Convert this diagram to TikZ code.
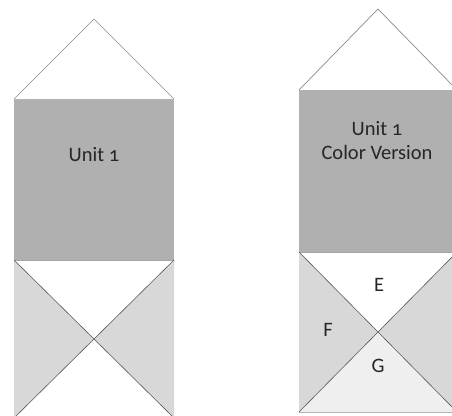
\documentclass[tikz,border=0pt]{standalone}
\usepackage{fontspec}
\setmainfont{Carlito}[Numbers=OldStyle]
\definecolor{walldark}{HTML}{B0B0B0}
\definecolor{wallmid}{HTML}{D8D8D8}
\definecolor{walllight}{HTML}{EFEFEF}
\definecolor{edgegray}{HTML}{8A8A8A}
\begin{document}
\begin{tikzpicture}[x=1pt,y=-1pt,
  roofline/.style={draw=edgegray,line width=0.7pt,line join=miter},
  diagline/.style={draw=black!65,line width=0.6pt},
  lbl/.style={font=\fontsize{20.5}{24}\selectfont,text=black!85,align=center,inner sep=0pt}]
\useasboundingbox (0,0) rectangle (452,415);
\clip (0,0) rectangle (452,415);
% ---------- left house ----------
\coordinate (LA) at (94,19);
\coordinate (LBl) at (14,99);
\coordinate (LBr) at (174,99);
\coordinate (LMl) at (14,260);
\coordinate (LMr) at (174,260);
\coordinate (LDl) at (14,418);
\coordinate (LDr) at (174,418);
\coordinate (LC) at (94,339);
\fill[walldark] (LBl) rectangle (LMr);
\fill[wallmid] (LMl) -- (LC) -- (LDl) -- cycle;
\fill[wallmid] (LMr) -- (LC) -- (LDr) -- cycle;
\draw[roofline] (LBl) -- (LA) -- (LBr);
\draw[draw=gray!60,line width=0.5pt] (LBl) -- (LBr);
\draw[draw=gray!70,line width=0.5pt] (LMl) -- (LMr);
\draw[diagline] (LMl) -- (LDr);
\draw[diagline] (LMr) -- (LDl);
\node[lbl] (u1) at (94,155) {Unit 1};
% ---------- right house ----------
\coordinate (RA) at (378,9);
\coordinate (RBl) at (299,90);
\coordinate (RBr) at (457,90);
\coordinate (RMl) at (299,252);
\coordinate (RMr) at (457,252);
\coordinate (RDl) at (299,412);
\coordinate (RDr) at (457,412);
\coordinate (RC) at (378,332);
\fill[walldark] (RBl) rectangle (RMr);
\fill[wallmid] (RMl) -- (RC) -- (RDl) -- cycle;
\fill[wallmid] (RMr) -- (RC) -- (RDr) -- cycle;
\fill[walllight] (RDl) -- (RC) -- (RDr) -- cycle;
\draw[roofline] (RBl) -- (RA) -- (RBr);
\draw[draw=gray!70,line width=0.5pt] (RMl) -- (RMr);
\draw[draw=gray!60,line width=0.7pt] (RDl) -- (RDr);
\draw[diagline] (RMl) -- (RDr);
\draw[diagline] (RMr) -- (RDl);
\node[lbl] (u2) at (377,141) {Unit 1\\Color Version};
\node[lbl] (e) at (379,285) {E};
\node[lbl] (f) at (328,330) {F};
\node[lbl] (g) at (378,366) {G};
\end{tikzpicture}
\end{document}
